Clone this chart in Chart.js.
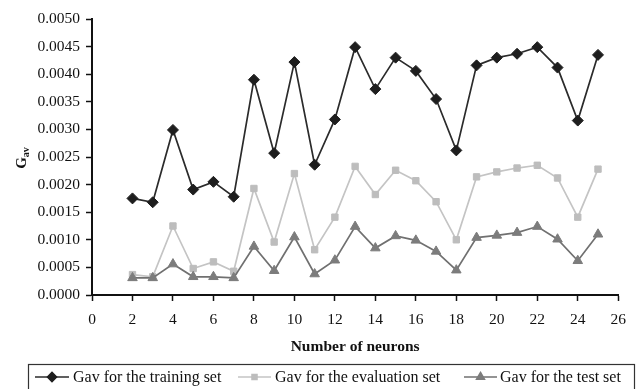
<!DOCTYPE html>
<html>
<head>
<meta charset="utf-8">
<style>
  html, body { margin: 0; padding: 0; background: #fff; }
  #wrap { width: 636px; height: 389px; position: relative; }
</style>
<script src="https://cdn.jsdelivr.net/npm/chart.js@4/dist/chart.umd.min.js"></script>
</head>
<body>
<div id="wrap"><canvas id="c" width="636" height="389"></canvas></div>
<script>
// Number of hidden neurons tested
const neurons = [2, 3, 4, 5, 6, 7, 8, 9, 10, 11, 12, 13, 14, 15, 16, 17, 18, 19, 20, 21, 22, 23, 24, 25];

// Average generalisation error per data set
const gavTraining = [0.00175, 0.00168, 0.00299, 0.00191, 0.00205, 0.00178, 0.00390, 0.00257, 0.00422, 0.00236,
                     0.00318, 0.00449, 0.00373, 0.00430, 0.00406, 0.00355, 0.00262, 0.00416, 0.00430, 0.00437,
                     0.00449, 0.00412, 0.00316, 0.00435];
const gavEvaluation = [0.00037, 0.00033, 0.00125, 0.00048, 0.00060, 0.00043, 0.00193, 0.00096, 0.00220, 0.00082,
                       0.00141, 0.00233, 0.00182, 0.00226, 0.00207, 0.00169, 0.00100, 0.00214, 0.00223, 0.00230,
                       0.00235, 0.00212, 0.00141, 0.00228];
const gavTest = [0.00031, 0.00031, 0.00056, 0.00033, 0.00033, 0.00031, 0.00088, 0.00044, 0.00105, 0.00038,
                 0.00063, 0.00124, 0.00085, 0.00107, 0.00099, 0.00079, 0.00045, 0.00104, 0.00108, 0.00113,
                 0.00124, 0.00101, 0.00062, 0.00110];

const seriesNames = ['Gav for the training set', 'Gav for the evaluation set', 'Gav for the test set'];
const yTicks = { min: 0, max: 0.005, step: 0.0005 };
const xTicks = { min: 0, max: 26, step: 2 };

const FONT = '"Liberation Serif", "Times New Roman", serif';

const toXY = (vals) => vals.map((v, i) => ({ x: neurons[i], y: v }));

const styles = [
  { line: '#2b2b2b', point: '#1e1e1e', shape: 'rectRot', r: 5.5 },
  { line: '#c4c4c4', point: '#bdbdbd', shape: 'rect', r: 4.5 },
  { line: '#707070', point: '#7c7c7c', shape: 'triangle', r: 5.5 }
];
const seriesData = [gavTraining, gavEvaluation, gavTest];

const datasets = seriesData.map((vals, k) => ({
  label: seriesNames[k],
  data: toXY(vals),
  borderColor: styles[k].line,
  backgroundColor: styles[k].point,
  pointBackgroundColor: styles[k].point,
  pointBorderColor: styles[k].point,
  pointStyle: styles[k].shape,
  pointRadius: styles[k].r,
  pointBorderWidth: 1,
  borderWidth: 1.7,
  tension: 0,
  order: 3 - k
}));

// Rotated G_av axis title and the boxed legend under the plot
const decorations = {
  id: 'decorations',
  afterDraw(chart) {
    const ctx = chart.ctx;

    // y-axis title: bold G with subscript "av"
    ctx.save();
    ctx.translate(21, 158);
    ctx.rotate(-Math.PI / 2);
    ctx.fillStyle = '#111';
    ctx.textBaseline = 'alphabetic';
    ctx.textAlign = 'left';
    ctx.font = 'bold 15px ' + FONT;
    const gw = ctx.measureText('G').width;
    ctx.font = 'bold 10px ' + FONT;
    const sw = ctx.measureText('av').width;
    const start = -(gw + sw) / 2;
    ctx.font = 'bold 15px ' + FONT;
    ctx.fillText('G', start, 5);
    ctx.font = 'bold 10px ' + FONT;
    ctx.fillText('av', start + gw, 8);
    ctx.restore();

    // legend frame
    ctx.save();
    ctx.strokeStyle = '#333';
    ctx.lineWidth = 1.2;
    ctx.strokeRect(28.5, 364.5, 606, 30);

    const items = [
      { x0: 35, x1: 69, tx: 73 },
      { x0: 238, x1: 271, tx: 275 },
      { x0: 464, x1: 497, tx: 500 }
    ];
    const cy = 377;
    items.forEach((it, k) => {
      const st = styles[k];
      ctx.strokeStyle = st.line;
      ctx.lineWidth = 1.6;
      ctx.beginPath();
      ctx.moveTo(it.x0, cy);
      ctx.lineTo(it.x1, cy);
      ctx.stroke();

      ctx.save();
      ctx.fillStyle = st.point;
      ctx.strokeStyle = st.point;
      Chart.helpers.drawPoint(ctx, {
        pointStyle: st.shape,
        radius: st.r - 1,
        borderWidth: 1,
        rotation: 0
      }, (it.x0 + it.x1) / 2, cy);
      ctx.restore();

      ctx.fillStyle = '#111';
      ctx.font = '16px ' + FONT;
      ctx.textAlign = 'left';
      ctx.textBaseline = 'middle';
      ctx.fillText(seriesNames[k], it.tx, cy + 1);
    });
    ctx.restore();
  }
};

new Chart(document.getElementById('c'), {
  type: 'line',
  data: { datasets },
  options: {
    responsive: false,
    animation: false,
    layout: { padding: { top: 19, right: 11, left: 0, bottom: 0 } },
    plugins: {
      legend: { display: false },
      tooltip: { enabled: false }
    },
    scales: {
      x: {
        type: 'linear',
        min: xTicks.min,
        max: xTicks.max,
        ticks: {
          stepSize: xTicks.step,
          color: '#111',
          font: { family: FONT, size: 15.5 },
          padding: 10,
          maxRotation: 0
        },
        grid: {
          drawOnChartArea: false,
          drawTicks: true,
          tickLength: 6,
          tickColor: '#111',
          tickWidth: 1.5
        },
        border: { color: '#111', width: 2 },
        title: {
          display: true,
          text: 'Number of neurons',
          color: '#111',
          font: { family: FONT, size: 15.5, weight: 'bold' },
          padding: { top: 10, bottom: 33 }
        },
        afterFit(scale) { scale.height = 94; }
      },
      y: {
        min: yTicks.min,
        max: yTicks.max,
        ticks: {
          stepSize: yTicks.step,
          color: '#111',
          font: { family: FONT, size: 15.5 },
          padding: 6,
          callback: (v) => Number(v).toFixed(4)
        },
        grid: {
          drawOnChartArea: false,
          drawTicks: true,
          tickLength: 6,
          tickColor: '#111',
          tickWidth: 1.5
        },
        border: { color: '#111', width: 2 },
        afterFit(scale) { scale.width = 92; }
      }
    }
  },
  plugins: [decorations]
});
</script>
</body>
</html>
